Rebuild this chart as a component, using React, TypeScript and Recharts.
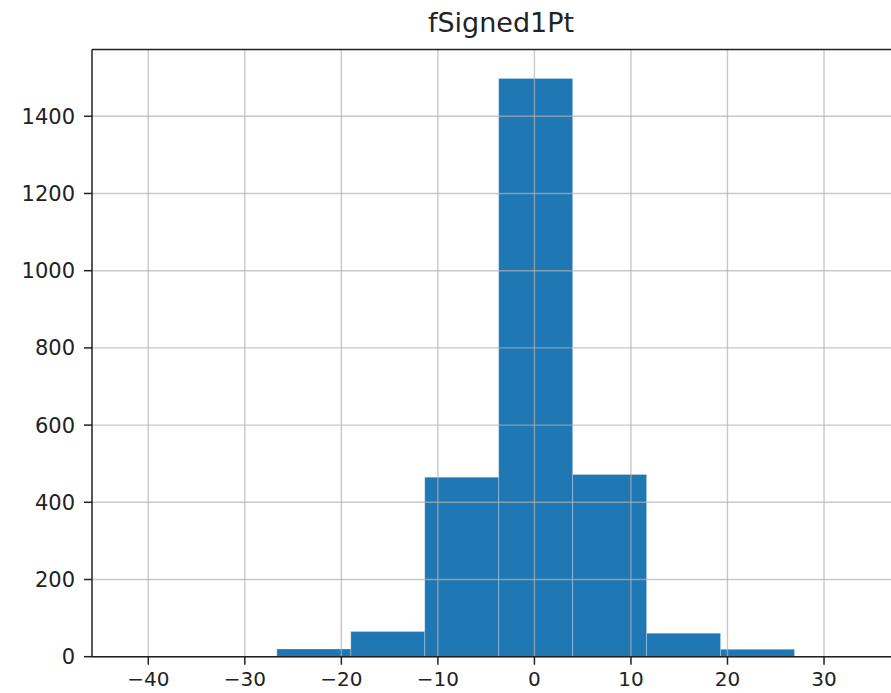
import {
  ComposedChart,
  XAxis,
  YAxis,
  Line,
  ReferenceArea,
  ReferenceLine,
} from "recharts";

const binStarts = [-42, -34.34, -26.68, -19.02, -11.36, -3.7, 3.96, 11.62, 19.28, 26.94];
const binEnds = [-34.34, -26.68, -19.02, -11.36, -3.7, 3.96, 11.62, 19.28, 26.94, 34.6];
const counts = [1, 0, 20, 65, 465, 1498, 472, 61, 19, 1];
const xTicks = [-40, -30, -20, -10, 0, 10, 20, 30];
const yTicks = [0, 200, 400, 600, 800, 1000, 1200, 1400];

const X_DOMAIN: [number, number] = [-45.83, 38.43];
const Y_MAX = 1573;

const bins = counts.map((count, i) => ({
  x0: binStarts[i],
  x1: binEnds[i],
  mid: (binStarts[i] + binEnds[i]) / 2,
  count,
}));

const font = "'DejaVu Sans', sans-serif";
const gridColor = "#b0b0b0";

// matplotlib prints a real minus sign
const fmt = (v: number) => String(v).replace("-", "\u2212");

export default function App() {
  return (
    <div
      style={{
        position: "absolute",
        left: 0,
        top: 0,
        width: 891,
        height: 693,
        overflow: "hidden",
        background: "#fff",
        fontFamily: font,
      }}
    >
      <div
        style={{
          position: "absolute",
          left: 0,
          top: 7,
          width: 1002,
          textAlign: "center",
          fontSize: 27,
          lineHeight: "32px",
          color: "#222",
        }}
      >
        fSigned1Pt
      </div>
      <ComposedChart
        width={920}
        height={693}
        data={bins}
        margin={{ top: 49.5, right: 14.6, left: 0, bottom: 0 }}
        style={{ fontFamily: font }}
      >
        <XAxis
          type="number"
          dataKey="mid"
          domain={X_DOMAIN}
          ticks={xTicks}
          tickFormatter={fmt}
          allowDataOverflow
          height={36.3}
          tickSize={8}
          tickMargin={7}
          axisLine={{ stroke: "#222", strokeWidth: 1.5 }}
          tickLine={{ stroke: "#222", strokeWidth: 1.5 }}
          tick={{ fill: "#222", fontSize: 20 }}
        />
        <YAxis
          type="number"
          domain={[0, Y_MAX]}
          ticks={yTicks}
          allowDataOverflow
          width={92}
          tickSize={8}
          tickMargin={9}
          axisLine={{ stroke: "#222", strokeWidth: 1.5 }}
          tickLine={{ stroke: "#222", strokeWidth: 1.5 }}
          tick={{ fill: "#222", fontSize: 21 }}
        />
        {bins.map((b, i) => (
          <ReferenceArea
            key={"bin" + i}
            x1={b.x0}
            x2={b.x1}
            y1={0}
            y2={b.count}
            fill="#1f77b4"
            fillOpacity={1}
            stroke="#ffffff"
            strokeOpacity={0.25}
            strokeWidth={1}
          />
        ))}
        {xTicks.map((t) => (
          <ReferenceLine
            key={"gx" + t}
            x={t}
            stroke={gridColor}
            strokeOpacity={0.7}
            strokeWidth={1.4}
          />
        ))}
        {yTicks.map((t) => (
          <ReferenceLine
            key={"gy" + t}
            y={t}
            stroke={gridColor}
            strokeOpacity={0.7}
            strokeWidth={1.4}
          />
        ))}
        <ReferenceLine y={Y_MAX} stroke="#222" strokeWidth={1.5} />
        <Line
          dataKey="count"
          stroke="none"
          dot={false}
          activeDot={false}
          legendType="none"
          isAnimationActive={false}
        />
      </ComposedChart>
    </div>
  );
}
